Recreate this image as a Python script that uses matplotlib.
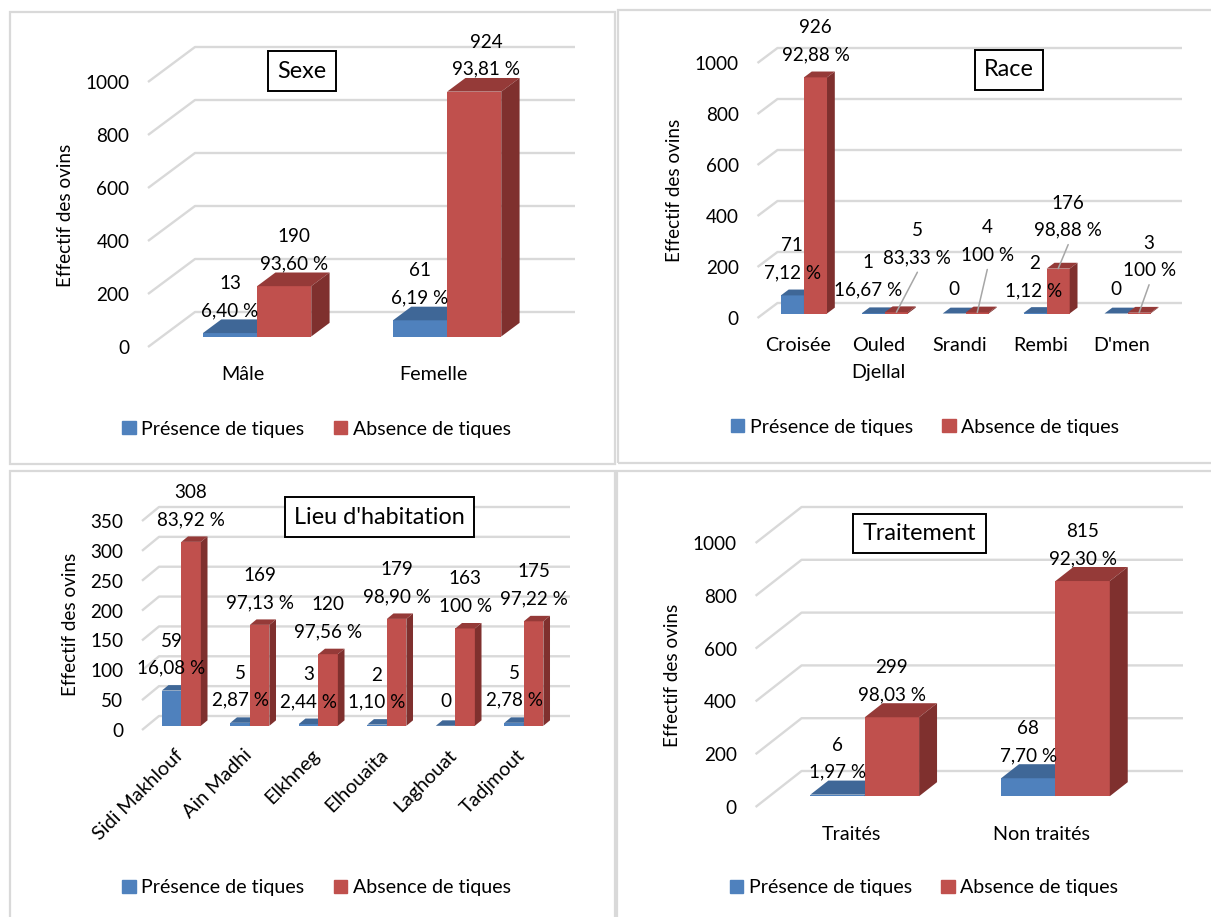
import matplotlib
matplotlib.use("Agg")
import matplotlib.pyplot as plt
from matplotlib.patches import Patch, Rectangle
from matplotlib.transforms import ScaledTranslation

W, H = 1211, 917
BLUE = ("#4F81BD", "#3F6797", "#2F4D71")
RED = ("#C0504D", "#953A38", "#7F302E")
GRID = "#D9D9D9"
FRAME = "#D9D9D9"
PRESENCE = "Présence de tiques"
ABSENCE = "Absence de tiques"

plt.rcParams["font.family"] = ["Lato", "DejaVu Sans"]
plt.rcParams["font.size"] = 13.6

# data
sexe_cats = ["Mâle", "Femelle"]
sexe_pres = [13, 61]
sexe_abs = [190, 924]
sexe_pres_pct = ["6,40 %", "6,19 %"]
sexe_abs_pct = ["93,60 %", "93,81 %"]

race_cats = ["Croisée", "Ouled\nDjellal", "Srandi", "Rembi", "D'men"]
race_pres = [71, 1, 0, 2, 0]
race_abs = [926, 5, 4, 176, 3]
race_pres_pct = ["7,12 %", "16,67 %", None, "1,12 %", None]
race_abs_pct = ["92,88 %", "83,33 %", "100 %", "98,88 %", "100 %"]

lieu_cats = ["Sidi Makhlouf", "Ain Madhi", "Elkhneg", "Elhouaita", "Laghouat", "Tadjmout"]
lieu_pres = [59, 5, 3, 2, 0, 5]
lieu_abs = [308, 169, 120, 179, 163, 175]
lieu_pres_pct = ["16,08 %", "2,87 %", "2,44 %", "1,10 %", None, "2,78 %"]
lieu_abs_pct = ["83,92 %", "97,13 %", "97,56 %", "98,90 %", "100 %", "97,22 %"]

trait_cats = ["Traités", "Non traités"]
trait_pres = [6, 68]
trait_abs = [299, 815]
trait_pres_pct = ["1,97 %", "7,70 %"]
trait_abs_pct = ["98,03 %", "92,30 %"]


def px_axes(x0, x1, y_top, y_bottom):
    return plt.axes([x0 / W, 1 - y_bottom / H, (x1 - x0) / W, (y_bottom - y_top) / H])


def draw_panel(cats, pres, abs_, pres_pct, abs_pct, title, ticks, box, wall, title_xy,
               ylabel_xy, legend_xy, shifts=None, leaders=(), rotate=False):
    x0, x1, y_top, y_bottom = box
    ax = px_axes(x0, x1, y_top, y_bottom)
    n = len(cats)
    ymax = ticks[-1]
    ax.set_xlim(0, n)
    ax.set_ylim(0, ymax)
    cat_px = (x1 - x0) / n
    val_px = (y_bottom - y_top) / ymax

    # the wall depth, in data units
    wx = wall[0] / cat_px
    wy = wall[1] / val_px

    for v in ticks:
        ax.plot([0, wx, n + wx], [v, v + wy, v + wy], color=GRID, lw=1.7,
                clip_on=False, zorder=1, solid_capstyle="butt")

    width = 0.285
    dx = 0.39 * wx
    dy = 0.39 * wy
    off_x = 0.3 * wx
    off_y = 0.3 * wy

    for i in range(n):
        cx = i + 0.5 + off_x
        for j, (val, cols) in enumerate([(pres[i], BLUE), (abs_[i], RED)]):
            left = cx - width + j * width
            right = left + width
            top = off_y + val
            ax.bar(left, val, width=width, bottom=off_y, align="edge", color=cols[0],
                   clip_on=False, zorder=3 + j)
            ax.fill([left, right, right + dx, left + dx], [top, top, top + dy, top + dy],
                    color=cols[1], lw=0, clip_on=False, zorder=3 + j)
            ax.fill([right, right + dx, right + dx, right],
                    [off_y, off_y + dy, top + dy, top],
                    color=cols[2], lw=0, clip_on=False, zorder=3 + j)

    # value labels sit above the bar front
    pts = 72 / 100
    for i in range(n):
        cx = i + 0.5 + off_x
        for j, (val, pct) in enumerate([(pres[i], pres_pct[i]), (abs_[i], abs_pct[i])]):
            xc = cx - width / 2 + j * width
            top = off_y + val
            sx, sy = (0, 0) if shifts is None else shifts[j][i]
            if pct is None:
                text = str(val)
                up = 24
            else:
                text = f"{val}\n{pct}"
                up = 36
            ax.annotate(text, (xc, top), xytext=(sx * pts, (up + sy) * pts),
                        textcoords="offset points", ha="center", va="center",
                        linespacing=1.72, zorder=8, annotation_clip=False)
            if j == 1 and i in leaders:
                ax.annotate("", (xc, top), xytext=(sx * pts, (up + sy - 28) * pts),
                            textcoords="offset points", annotation_clip=False, zorder=7,
                            arrowprops=dict(arrowstyle="-", color="#A6A6A6", lw=1.1,
                                            shrinkA=0, shrinkB=0))

    for s in ax.spines.values():
        s.set_visible(False)
    ax.patch.set_visible(False)
    ax.set_yticks(ticks)
    ax.tick_params(axis="y", length=0, pad=13.5, labelsize=13.6)
    ax.set_xticks([i + 0.5 for i in range(n)])
    if rotate:
        ax.set_xticklabels(cats, rotation=45, ha="right", va="center",
                           rotation_mode="anchor", fontsize=14.2)
        ax.tick_params(axis="x", length=0, pad=16)
        nudge = ScaledTranslation(4 / 100, 0, fig.dpi_scale_trans)
        for lab in ax.get_xticklabels():
            lab.set_transform(lab.get_transform() + nudge)
    else:
        ax.set_xticklabels(cats, linespacing=1.72, fontsize=14.2)
        ax.tick_params(axis="x", length=0, pad=13.5)

    ax.set_ylabel("Effectif des ovins", fontsize=13.6)
    ax.yaxis.set_label_coords((ylabel_xy[0] + 9 - x0) / (x1 - x0),
                              (y_bottom - ylabel_xy[1]) / (y_bottom - y_top))

    fig.text(title_xy[0] / W, 1 - title_xy[1] / H, title, fontsize=16.8, ha="center",
             va="center", zorder=9,
             bbox=dict(boxstyle="square,pad=0.4", fc="white", ec="black", lw=1.4))

    handles = [Patch(color=BLUE[0], label=PRESENCE), Patch(color=RED[0], label=ABSENCE)]
    fig.legend(handles=handles, ncol=2, frameon=False, loc="center",
               bbox_to_anchor=(legend_xy[0] / W, 1 - legend_xy[1] / H),
               handlelength=0.68, handleheight=0.68, handletextpad=0.28,
               columnspacing=1.5, fontsize=14.1)


fig = plt.figure(figsize=(W / 100, H / 100), dpi=100, facecolor="white")

# panel frames
for fx0, fy0, fx1, fy1 in [(10, 12, 615, 464), (618, 10, 1213, 463),
                           (10, 471, 615, 920), (617, 471, 1213, 920)]:
    fig.add_artist(Rectangle((fx0 / W, 1 - fy1 / H), (fx1 - fx0) / W, (fy1 - fy0) / H,
                             transform=fig.transFigure, fc="none", ec=FRAME, lw=1.6))

draw_panel(sexe_cats, sexe_pres, sexe_abs, sexe_pres_pct, sexe_abs_pct, "Sexe",
           [0, 200, 400, 600, 800, 1000], (148, 528, 82, 347), (47, 35),
           (302, 71), (65, 215), (316.5, 429),
           shifts=[[(0, 0), (0, 0)], [(10, 0), (12, 0)]])

draw_panel(race_cats, race_pres, race_abs, race_pres_pct, race_abs_pct, "Race",
           [0, 200, 400, 600, 800, 1000], (757.5, 1162, 63, 318), (20, 15),
           (1009, 70), (674, 190), (925, 427),
           shifts=[[(0, 0), (-5, 1), (0, 0), (-1, 0), (0, 0)],
                   [(0, 0), (21, 32), (10, 35), (10, 16), (10, 20)]],
           leaders=(1, 2, 3, 4))

draw_panel(lieu_cats, lieu_pres, lieu_abs, lieu_pres_pct, lieu_abs_pct, "Lieu d'habitation",
           [0, 50, 100, 150, 200, 250, 300, 350], (142, 553, 521, 730), (17, 14),
           (379.5, 517), (70, 624.5), (316.5, 888), rotate=True)

draw_panel(trait_cats, trait_pres, trait_abs, trait_pres_pct, trait_abs_pct, "Traitement",
           [0, 200, 400, 600, 800, 1000], (755.6, 1137, 543, 807), (46, 36),
           (919.5, 533.5), (672.5, 675), (924, 888))

fig.savefig("out.png", dpi=100)
